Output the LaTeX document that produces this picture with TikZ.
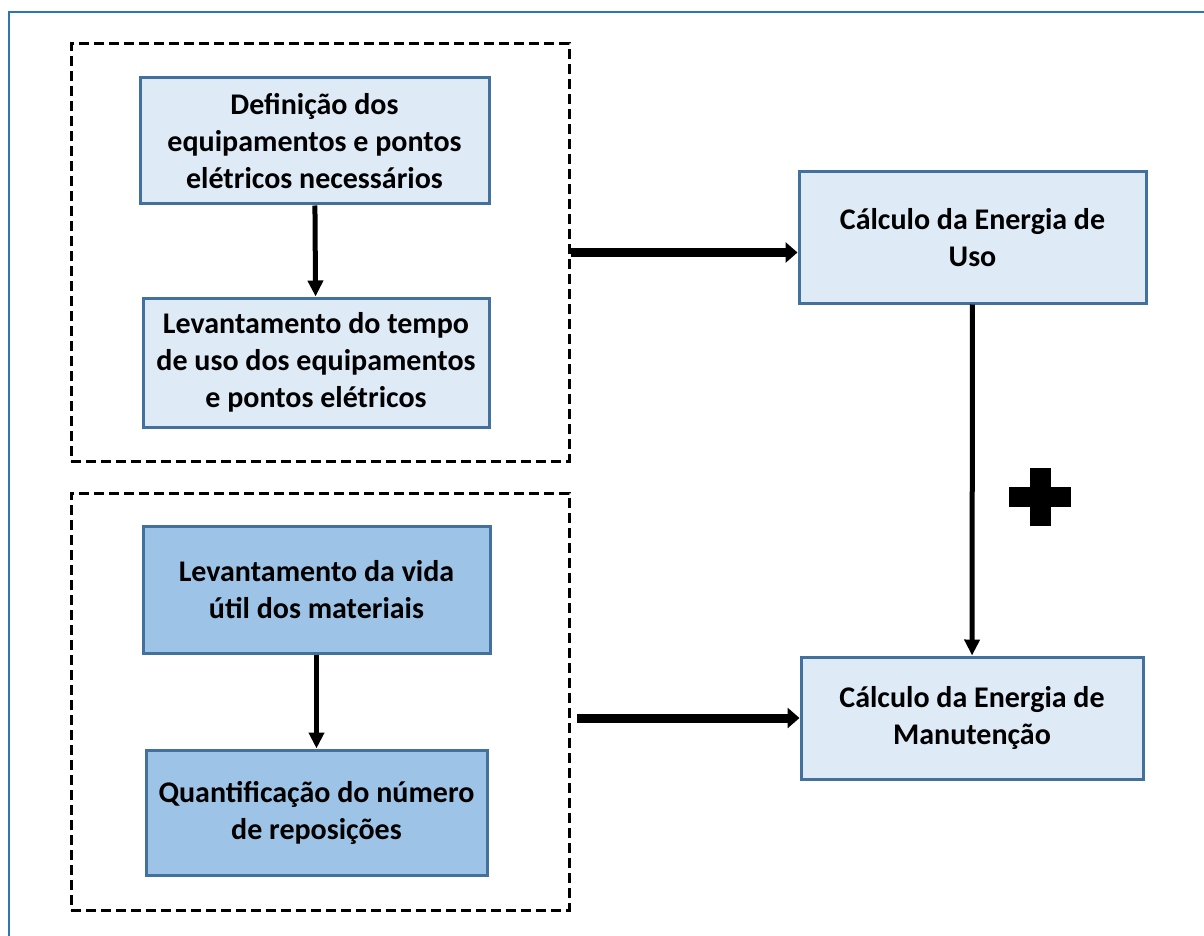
\documentclass[tikz,border=0pt]{standalone}
\usepackage{fontspec}
\setmainfont{Carlito}
\usetikzlibrary{arrows.meta}
\definecolor{boxline}{HTML}{41719C}
\definecolor{lightfill}{HTML}{DEEAF6}
\definecolor{darkfill}{HTML}{9DC3E6}
\definecolor{frameblue}{HTML}{2E75B6}
\begin{document}
\begin{tikzpicture}[x=1pt,y=-1pt,
  stepbox/.style={draw=boxline,line width=3pt,fill=lightfill,align=center,
    font=\fontsize{30}{37}\selectfont\bfseries,inner sep=0pt},
  darkbox/.style={stepbox,fill=darkfill},
  group/.style={draw,dash pattern=on 10pt off 5pt,line width=3pt,inner sep=0pt},
  flow/.style={-{Triangle[length=16pt,width=15pt]},line width=5pt},
  bigflow/.style={-{Triangle[length=12pt,width=20pt]},line width=9pt}]
\clip (0,0) rectangle (1204,936);
\useasboundingbox (0,0) rectangle (1204,936);
\draw [frameblue,line width=2.5pt] (9,12) rectangle (1230,960);

% left groups
\node [group,minimum width=498pt,minimum height=417pt] (grpA) at (320,252.5) {};
\node [group,minimum width=498pt,minimum height=417pt] (grpB) at (320,701.5) {};

\node [stepbox,minimum width=349pt,minimum height=126pt] (defin) at (314.5,141) {Definição dos\\equipamentos e pontos\\elétricos necessários};
\node [stepbox,minimum width=346pt,minimum height=129pt] (tempo) at (316,362.5) {Levantamento do tempo\\de uso dos equipamentos\\e pontos elétricos};
\node [darkbox,minimum width=347pt,minimum height=127pt] (vida) at (316.5,589.5) {Levantamento da vida\\útil dos materiais};
\node [darkbox,minimum width=341pt,minimum height=125pt] (repos) at (316.5,812.5) {Quantificação do número\\de reposições};

% right side
\node [stepbox,minimum width=347pt,minimum height=131pt] (uso) at (972.5,237.5) {Cálculo da Energia de\\Uso};
\node [stepbox,minimum width=342pt,minimum height=122pt] (manut) at (972,718) {Cálculo da Energia de\\Manutenção};

\draw [flow] (defin) -- (tempo);
\draw [flow] (vida) -- (repos);
\draw [flow] (uso) -- (manut);
\draw [bigflow] (grpA.east) -- (grpA.east -| uso.west);
\draw [bigflow,shorten <=6pt] (grpB.east |- manut.west) -- (manut.west);

% plus sign
\fill (1030,468) rectangle (1051,526);
\fill (1009,487) rectangle (1071,507);
\end{tikzpicture}
\end{document}
